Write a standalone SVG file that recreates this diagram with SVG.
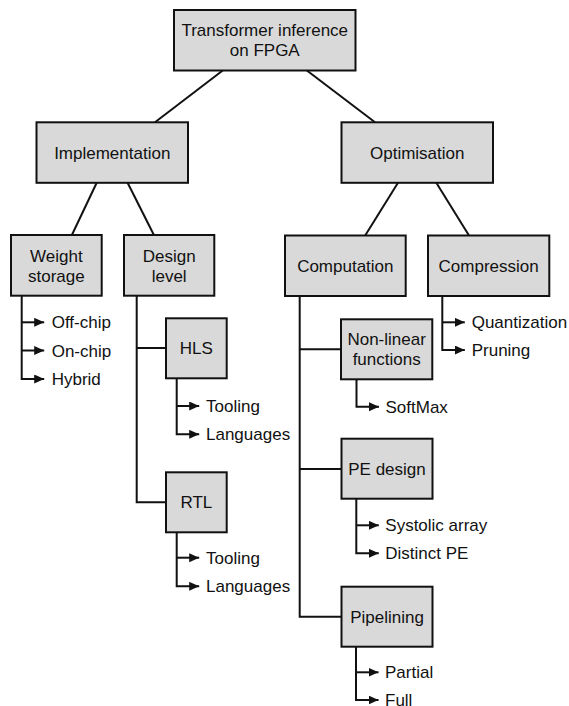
<svg xmlns="http://www.w3.org/2000/svg" width="569" height="706" viewBox="0 0 569 706">
<style>
.box{fill:#d9d9d9;stroke:#111;stroke-width:2}
.ln{fill:none;stroke:#111;stroke-width:2}
.arr{fill:none;stroke:#111;stroke-width:2;marker-end:url(#ah)}
text{font-family:"Liberation Sans",Arial,Helvetica,sans-serif;font-size:17px;fill:#111}
.c{text-anchor:middle}
</style>
<defs>
<marker id="ah" markerUnits="userSpaceOnUse" markerWidth="11" markerHeight="10" refX="10" refY="4.5" orient="auto">
<path d="M0,0 L10,4.5 L0,9 z" fill="#111"/>
</marker>
</defs>
<rect width="569" height="706" fill="#fff"/>
<g id="connectors">
<line class="ln" x1="222.7" y1="70.5" x2="155" y2="122.3"/>
<line class="ln" x1="306.9" y1="70.5" x2="375" y2="122.3"/>
<line class="ln" x1="96.7" y1="182.8" x2="71.9" y2="235"/>
<line class="ln" x1="127.6" y1="182.8" x2="153.9" y2="235"/>
<line class="ln" x1="398" y1="182.8" x2="365.2" y2="235.5"/>
<line class="ln" x1="436.3" y1="182.8" x2="469" y2="235.5"/>
<path class="ln" d="M136.7,295.7 V502.3 H166"/>
<path class="ln" d="M136.7,348 H166"/>
<path class="ln" d="M299.7,296 V616.7 H341.5"/>
<path class="ln" d="M299.7,349.3 H341"/>
<path class="ln" d="M299.7,469 H341.5"/>
<path class="arr" d="M21.7,295.7 V379 H44.2"/>
<path class="arr" d="M21.7,322.3 H44.2"/>
<path class="arr" d="M21.7,350.5 H44.2"/>
<path class="arr" d="M176.7,378.3 V434.3 H199.2"/>
<path class="arr" d="M176.7,406 H199.2"/>
<path class="arr" d="M176.7,532.3 V586.3 H199.2"/>
<path class="arr" d="M176.7,557.7 H199.2"/>
<path class="arr" d="M356.5,379.3 V406.7 H379"/>
<path class="arr" d="M442.3,296 V350 H464.8"/>
<path class="arr" d="M442.3,322.3 H464.8"/>
<path class="arr" d="M356.3,498.7 V553.3 H378.8"/>
<path class="arr" d="M356.3,525.3 H378.8"/>
<path class="arr" d="M356,646.7 V700 H378.5"/>
<path class="arr" d="M356,672.3 H378.5"/>
</g>
<g id="root"><rect class="box" x="174" y="10" width="181.5" height="60.5"/><text class="c" x="264.75" y="36.3">Transformer inference</text><text class="c" x="264.75" y="56.3">on FPGA</text></g>
<g id="implementation"><rect class="box" x="36.5" y="122.3" width="151.5" height="60.5"/><text class="c" x="112.25" y="158.6">Implementation</text></g>
<g id="optimisation"><rect class="box" x="341.5" y="122.3" width="151.5" height="60.5"/><text class="c" x="417.25" y="158.6">Optimisation</text></g>
<g id="weight-storage"><rect class="box" x="11" y="235" width="90.7" height="60.7"/><text class="c" x="56.35" y="261.5">Weight</text><text class="c" x="56.35" y="281.5">storage</text></g>
<g id="design-level"><rect class="box" x="124" y="235" width="90.3" height="60.7"/><text class="c" x="169.15" y="261.5">Design</text><text class="c" x="169.15" y="281.5">level</text></g>
<g id="computation"><rect class="box" x="285" y="235.5" width="120.7" height="60.5"/><text class="c" x="345.35" y="271.7">Computation</text></g>
<g id="compression"><rect class="box" x="428" y="235.5" width="121.3" height="60.5"/><text class="c" x="488.65" y="271.7">Compression</text></g>
<g id="hls"><rect class="box" x="166" y="318.3" width="60.7" height="60"/><text class="c" x="196.35" y="354.3">HLS</text></g>
<g id="non-linear"><rect class="box" x="341" y="319.3" width="91.3" height="60"/><text class="c" x="386.65" y="345.3">Non-linear</text><text class="c" x="386.65" y="365.3">functions</text></g>
<g id="rtl"><rect class="box" x="166" y="472.3" width="60.7" height="60"/><text class="c" x="196.35" y="508.3">RTL</text></g>
<g id="pe-design"><rect class="box" x="341.5" y="438.7" width="91" height="60"/><text class="c" x="387" y="474.7">PE design</text></g>
<g id="pipelining"><rect class="box" x="341.5" y="586.7" width="91" height="60"/><text class="c" x="387" y="622.7">Pipelining</text></g>
<g id="leaves">
<text x="51.7" y="328.3">Off-chip</text>
<text x="51.7" y="356.5">On-chip</text>
<text x="51.7" y="385">Hybrid</text>
<text x="206" y="412">Tooling</text>
<text x="206" y="440.3">Languages</text>
<text x="206" y="563.7">Tooling</text>
<text x="206" y="592.3">Languages</text>
<text x="385.5" y="412.7">SoftMax</text>
<text x="471.7" y="328.3">Quantization</text>
<text x="471.7" y="356">Pruning</text>
<text x="385.3" y="531.3">Systolic array</text>
<text x="385.3" y="559.3">Distinct PE</text>
<text x="385" y="678.3">Partial</text>
<text x="385" y="706">Full</text>
</g>
</svg>
